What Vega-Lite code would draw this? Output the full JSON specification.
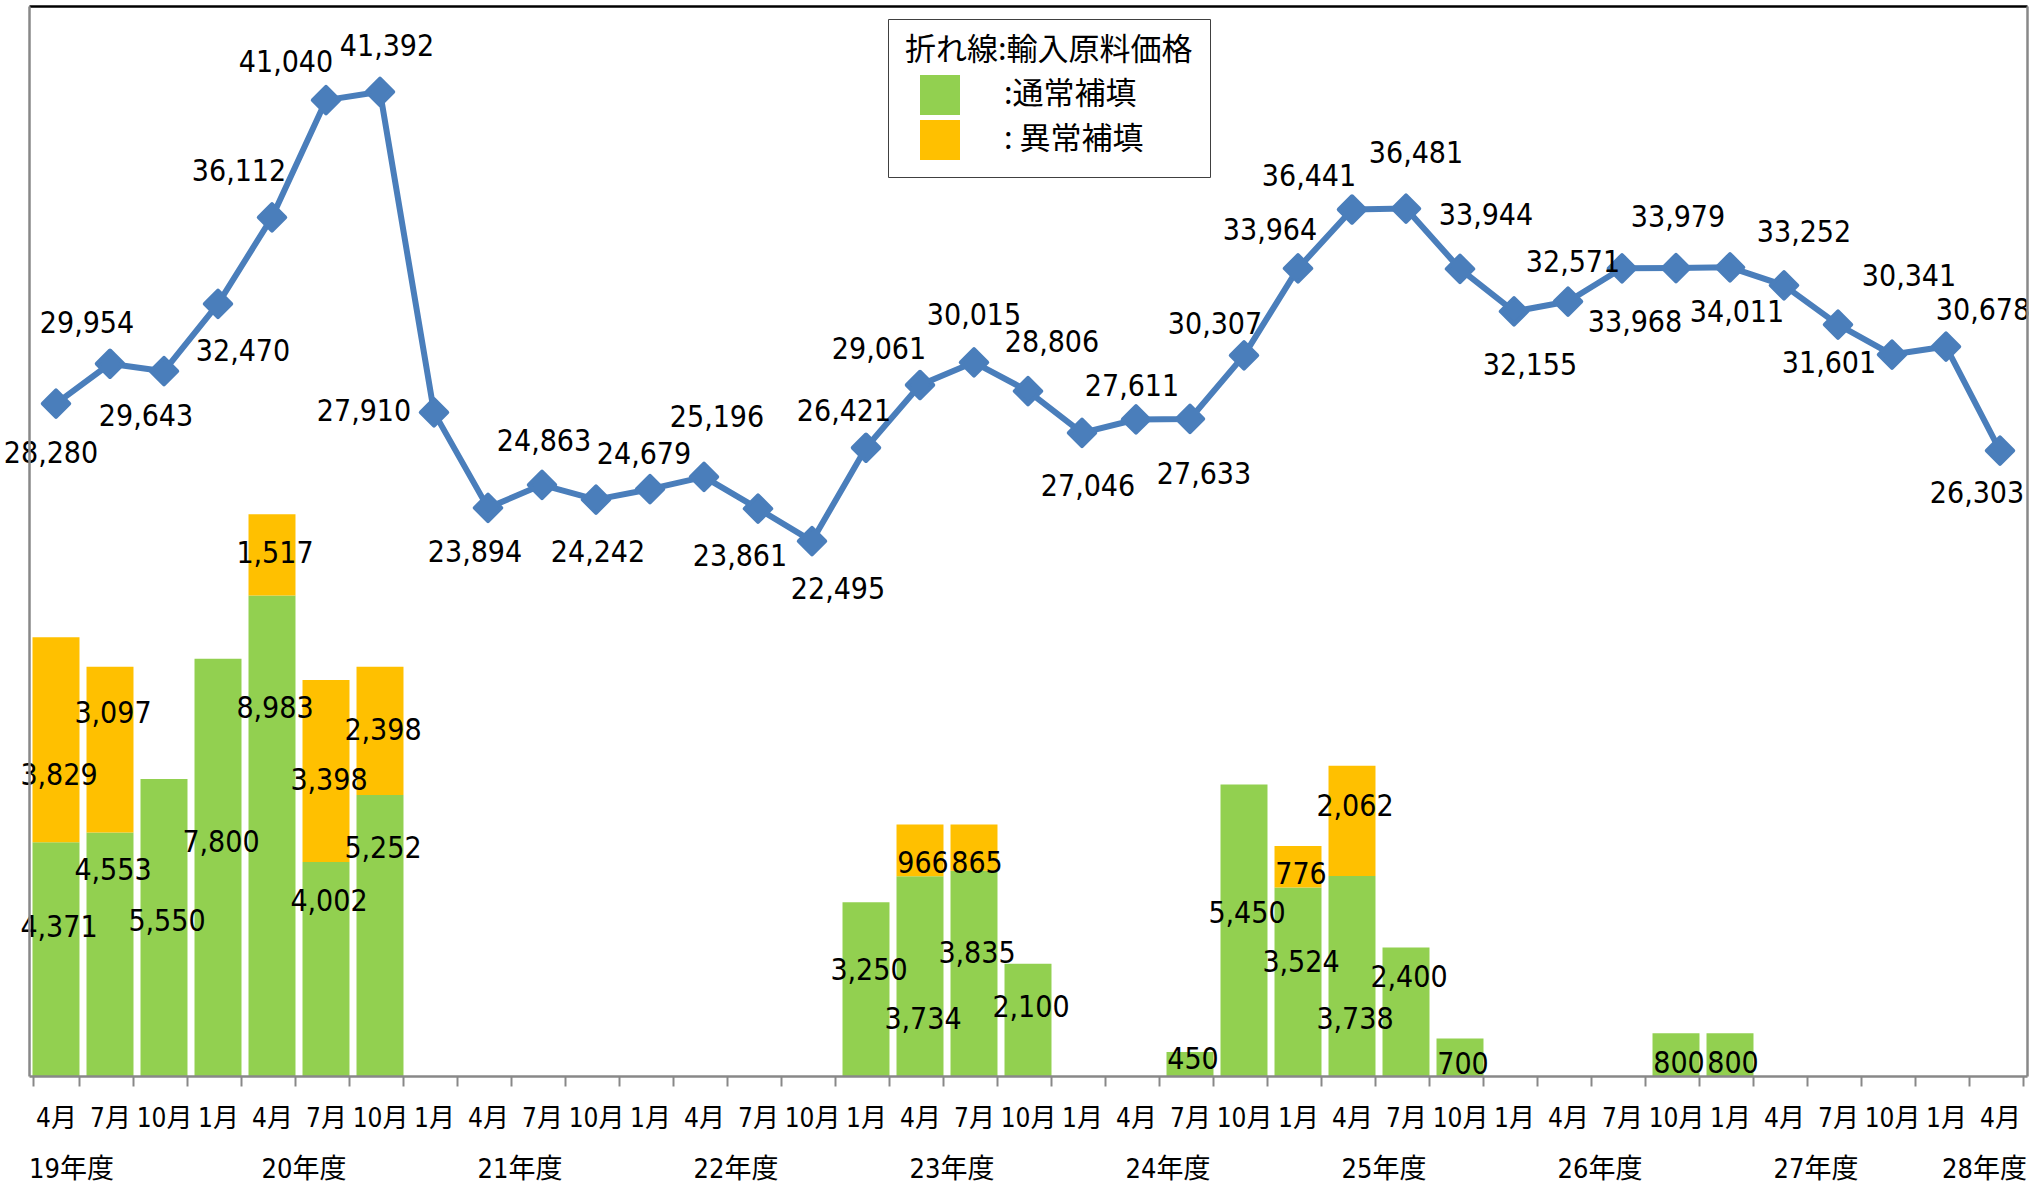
{
  "$schema": "https://vega.github.io/schema/vega-lite/v6.json",
  "width": 1998,
  "height": 1070,
  "autosize": {"type": "none"},
  "padding": {"left": 29, "top": 6, "right": 3, "bottom": 109},
  "background": "white",
  "params": [
    {
      "name": "lineShift",
      "value": {
        "19年度4月": [-5, 50], "19年度7月": [-23, -40], "19年度10月": [-18, 46], "19年度1月": [25, 48],
        "20年度4月": [-33, -45], "20年度7月": [-40, -37], "20年度10月": [7, -45], "20年度1月": [-70, 0],
        "21年度4月": [-13, 45], "21年度7月": [2, -43], "21年度10月": [2, 53], "21年度1月": [-6, -34],
        "22年度4月": [13, -59], "22年度7月": [-18, 48], "22年度10月": [26, 49], "22年度1月": [-22, -36],
        "23年度4月": [-41, -35], "23年度7月": [0, -46], "23年度10月": [24, -48], "23年度1月": [6, 54],
        "24年度4月": [-4, -32], "24年度7月": [14, 56], "24年度10月": [-29, -30], "24年度1月": [-28, -37],
        "25年度4月": [-43, -33], "25年度7月": [10, -55], "25年度10月": [26, -53], "25年度1月": [16, 55],
        "26年度4月": [5, -39], "26年度7月": [13, 55], "26年度10月": [2, -50], "26年度1月": [7, 46],
        "27年度4月": [20, -52], "27年度7月": [-9, 39], "27年度10月": [17, -78], "27年度1月": [37, -36],
        "28年度4月": [-23, 43]
      }
    },
    {
      "name": "barShift",
      "value": {
        "19年度4月|通常補填": 86, "19年度4月|異常補填": 139,
        "19年度7月|通常補填": 39, "19年度7月|異常補填": 47,
        "19年度10月|通常補填": 143,
        "19年度1月|通常補填": 184,
        "20年度4月|通常補填": 114, "20年度4月|異常補填": 40,
        "20年度7月|通常補填": 40, "20年度7月|異常補填": 101,
        "20年度10月|通常補填": 54, "20年度10月|異常補填": 64,
        "22年度1月|通常補填": 69,
        "23年度4月|通常補填": 144, "23年度4月|異常補填": 39,
        "23年度7月|通常補填": 83, "23年度7月|異常補填": 39,
        "23年度10月|通常補填": 44,
        "24年度7月|通常補填": 8,
        "24年度10月|通常補填": 130,
        "24年度1月|通常補填": 76, "24年度1月|異常補填": 29,
        "25年度4月|通常補填": 144, "25年度4月|異常補填": 41,
        "25年度7月|通常補填": 30,
        "25年度10月|通常補填": 26,
        "26年度10月|通常補填": 31,
        "26年度1月|通常補填": 31
      }
    }
  ],
  "datasets": {
    "price": [
      {"period": "19年度4月", "price": 28280}, {"period": "19年度7月", "price": 29954},
      {"period": "19年度10月", "price": 29643}, {"period": "19年度1月", "price": 32470},
      {"period": "20年度4月", "price": 36112}, {"period": "20年度7月", "price": 41040},
      {"period": "20年度10月", "price": 41392}, {"period": "20年度1月", "price": 27910},
      {"period": "21年度4月", "price": 23894}, {"period": "21年度7月", "price": 24863},
      {"period": "21年度10月", "price": 24242}, {"period": "21年度1月", "price": 24679},
      {"period": "22年度4月", "price": 25196}, {"period": "22年度7月", "price": 23861},
      {"period": "22年度10月", "price": 22495}, {"period": "22年度1月", "price": 26421},
      {"period": "23年度4月", "price": 29061}, {"period": "23年度7月", "price": 30015},
      {"period": "23年度10月", "price": 28806}, {"period": "23年度1月", "price": 27046},
      {"period": "24年度4月", "price": 27611}, {"period": "24年度7月", "price": 27633},
      {"period": "24年度10月", "price": 30307}, {"period": "24年度1月", "price": 33964},
      {"period": "25年度4月", "price": 36441}, {"period": "25年度7月", "price": 36481},
      {"period": "25年度10月", "price": 33944}, {"period": "25年度1月", "price": 32155},
      {"period": "26年度4月", "price": 32571}, {"period": "26年度7月", "price": 33968},
      {"period": "26年度10月", "price": 33979}, {"period": "26年度1月", "price": 34011},
      {"period": "27年度4月", "price": 33252}, {"period": "27年度7月", "price": 31601},
      {"period": "27年度10月", "price": 30341}, {"period": "27年度1月", "price": 30678},
      {"period": "28年度4月", "price": 26303}
    ],
    "subsidy": [
      {"period": "19年度4月", "kind": "通常補填", "amount": 4371}, {"period": "19年度4月", "kind": "異常補填", "amount": 3829},
      {"period": "19年度7月", "kind": "通常補填", "amount": 4553}, {"period": "19年度7月", "kind": "異常補填", "amount": 3097},
      {"period": "19年度10月", "kind": "通常補填", "amount": 5550},
      {"period": "19年度1月", "kind": "通常補填", "amount": 7800},
      {"period": "20年度4月", "kind": "通常補填", "amount": 8983}, {"period": "20年度4月", "kind": "異常補填", "amount": 1517},
      {"period": "20年度7月", "kind": "通常補填", "amount": 4002}, {"period": "20年度7月", "kind": "異常補填", "amount": 3398},
      {"period": "20年度10月", "kind": "通常補填", "amount": 5252}, {"period": "20年度10月", "kind": "異常補填", "amount": 2398},
      {"period": "22年度1月", "kind": "通常補填", "amount": 3250},
      {"period": "23年度4月", "kind": "通常補填", "amount": 3734}, {"period": "23年度4月", "kind": "異常補填", "amount": 966},
      {"period": "23年度7月", "kind": "通常補填", "amount": 3835}, {"period": "23年度7月", "kind": "異常補填", "amount": 865},
      {"period": "23年度10月", "kind": "通常補填", "amount": 2100},
      {"period": "24年度7月", "kind": "通常補填", "amount": 450},
      {"period": "24年度10月", "kind": "通常補填", "amount": 5450},
      {"period": "24年度1月", "kind": "通常補填", "amount": 3524}, {"period": "24年度1月", "kind": "異常補填", "amount": 776},
      {"period": "25年度4月", "kind": "通常補填", "amount": 3738}, {"period": "25年度4月", "kind": "異常補填", "amount": 2062},
      {"period": "25年度7月", "kind": "通常補填", "amount": 2400},
      {"period": "25年度10月", "kind": "通常補填", "amount": 700},
      {"period": "26年度10月", "kind": "通常補填", "amount": 800},
      {"period": "26年度1月", "kind": "通常補填", "amount": 800}
    ]
  },
  "layer": [
    {
      "data": {"name": "subsidy"},
      "mark": {"type": "bar"},
      "encoding": {
        "x": {
          "field": "period", "type": "nominal",
          "scale": {
            "domain": ["19年度4月","19年度7月","19年度10月","19年度1月","20年度4月","20年度7月","20年度10月","20年度1月","21年度4月","21年度7月","21年度10月","21年度1月","22年度4月","22年度7月","22年度10月","22年度1月","23年度4月","23年度7月","23年度10月","23年度1月","24年度4月","24年度7月","24年度10月","24年度1月","25年度4月","25年度7月","25年度10月","25年度1月","26年度4月","26年度7月","26年度10月","26年度1月","27年度4月","27年度7月","27年度10月","27年度1月","28年度4月"],
            "paddingInner": 0.13, "paddingOuter": 0.065
          },
          "axis": {
            "orient": "bottom", "title": null, "zindex": 1,
            "domainColor": "#888888", "domainWidth": 2.5,
            "ticks": true, "tickBand": "extent", "tickColor": "#888888", "tickWidth": 2, "tickSize": 10,
            "labelAngle": 0, "labelExpr": "split(datum.value, '度')[1]",
            "labelFont": "DejaVu Sans Condensed, Noto Sans CJK JP, sans-serif",
            "labelFontSize": 26, "labelColor": "#000000", "labelBaseline": "middle", "labelPadding": 32,
            "labelOverlap": false, "labelBound": false, "grid": false
          }
        },
        "y": {
          "field": "amount", "type": "quantitative", "stack": "zero",
          "scale": {"domain": [0, 20000], "nice": false},
          "axis": {"orient": "right", "title": null, "labels": false, "ticks": false, "grid": false, "domainColor": "#888888", "domainWidth": 2.5, "zindex": 1}
        },
        "color": {
          "field": "kind", "type": "nominal",
          "scale": {"domain": ["通常補填", "異常補填"], "range": ["#92D050", "#FFC000"]},
          "legend": {
            "orient": "none", "legendX": 859, "legendY": 13,
            "title": "折れ線:輸入原料価格",
            "titleFont": "Noto Sans CJK JP", "titleFontSize": 31, "titleFontWeight": "normal", "titleColor": "#000000", "titlePadding": 8,
            "titleLimit": 600,
            "labelFont": "Noto Sans CJK JP", "labelFontSize": 31, "labelColor": "#000000", "labelLimit": 400,
            "labelExpr": "datum.label == '通常補填' ? ':通常補填' : ': 異常補填'",
            "symbolType": "square", "symbolSize": 1600, "symbolStrokeWidth": 0, "symbolOffset": 15,
            "labelOffset": 44, "rowPadding": 5, "padding": 17,
            "strokeColor": "#404040", "fillColor": "#ffffff"
          }
        },
        "order": {"field": "kind", "sort": "descending"}
      }
    },
    {
      "data": {"name": "subsidy"},
      "mark": {
        "type": "text", "align": "center", "baseline": "middle", "color": "#000000",
        "font": "DejaVu Sans Condensed, Noto Sans CJK JP, sans-serif", "fontSize": 30,
        "dx": 3,
        "dy": {"expr": "barShift[datum.period + '|' + datum.kind]"}
      },
      "encoding": {
        "x": {
          "field": "period", "type": "nominal",
          "axis": {"orient": "top", "title": null, "labels": false, "ticks": false, "grid": false, "domainColor": "#000000", "domainWidth": 2.5, "zindex": 1}
        },
        "y": {"field": "amount", "type": "quantitative", "stack": "zero", "scale": {"domain": [0, 20000], "nice": false}, "axis": null},
        "detail": {"field": "kind", "type": "nominal"},
        "order": {"field": "kind", "sort": "descending"},
        "text": {"field": "amount", "type": "quantitative", "format": ","}
      }
    },
    {
      "data": {"name": "price"},
      "mark": {"type": "line", "color": "#4A7EBB", "strokeWidth": 6, "strokeJoin": "round"},
      "encoding": {
        "x": {
          "field": "period", "type": "nominal",
          "axis": {
            "orient": "bottom", "title": null, "domain": false, "ticks": false, "grid": false,
            "labelAngle": 0,
            "labelExpr": "indexof(datum.value, '度4月') >= 0 ? split(datum.value, '年')[0] + '年度' : ''",
            "labelFont": "DejaVu Sans Condensed, Noto Sans CJK JP, sans-serif",
            "labelFontSize": 27, "labelColor": "#000000", "labelBaseline": "middle", "labelPadding": 93,
            "labelOverlap": false, "labelBound": false,
            "labelAlign": {"condition": [{"test": "datum.value == '19年度4月'", "value": "left"}, {"test": "datum.value == '28年度4月'", "value": "right"}], "value": "center"},
            "labelOffset": {"condition": [{"test": "datum.value == '19年度4月'", "value": -27}, {"test": "datum.value == '28年度4月'", "value": 27}], "value": 32}
          }
        },
        "y": {
          "field": "price", "type": "quantitative",
          "scale": {"domain": [0, 45000], "nice": false},
          "axis": {"orient": "left", "title": null, "labels": false, "ticks": false, "grid": false, "domainColor": "#888888", "domainWidth": 2.5, "zindex": 1}
        }
      }
    },
    {
      "data": {"name": "price"},
      "mark": {"type": "point", "shape": "diamond", "filled": true, "size": 700, "color": "#4A7EBB", "stroke": "#4A7EBB", "strokeWidth": 4, "strokeJoin": "round", "opacity": 1},
      "encoding": {
        "x": {"field": "period", "type": "nominal", "axis": null},
        "y": {"field": "price", "type": "quantitative", "scale": {"domain": [0, 45000], "nice": false}, "axis": null}
      }
    },
    {
      "data": {"name": "price"},
      "mark": {
        "type": "text", "align": "center", "baseline": "middle", "color": "#000000",
        "font": "DejaVu Sans Condensed, Noto Sans CJK JP, sans-serif", "fontSize": 30,
        "dx": {"expr": "lineShift[datum.period][0]"},
        "dy": {"expr": "lineShift[datum.period][1]"}
      },
      "encoding": {
        "x": {"field": "period", "type": "nominal", "axis": null},
        "y": {"field": "price", "type": "quantitative", "scale": {"domain": [0, 45000], "nice": false}, "axis": null},
        "text": {"field": "price", "type": "quantitative", "format": ","}
      }
    }
  ],
  "resolve": {"scale": {"y": "independent"}, "axis": {"x": "independent", "y": "independent"}},
  "config": {"view": {"stroke": null}}
}
